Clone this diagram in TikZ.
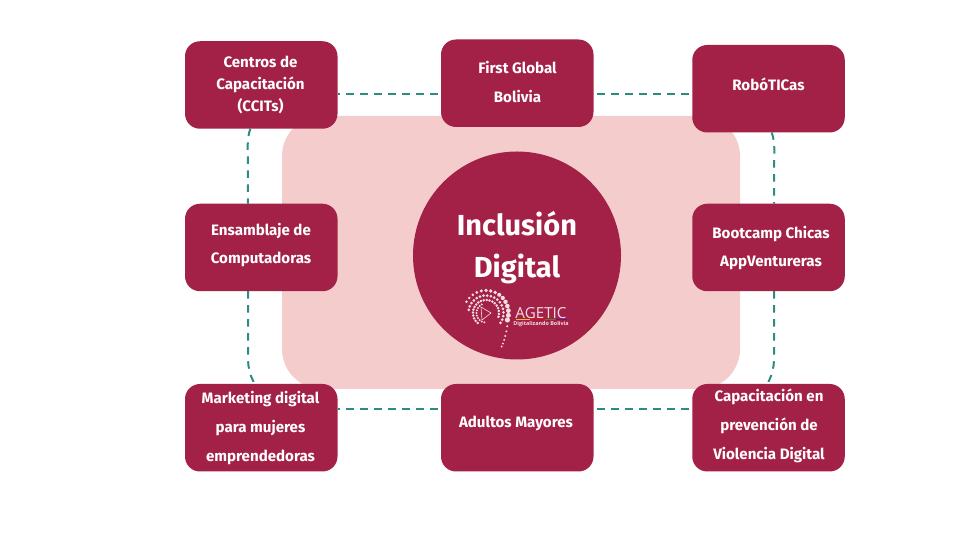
\documentclass[tikz,border=0pt]{standalone}
\usepackage{fontspec}
\setmainfont{Fira Sans}
\newfontfamily\logofont{Open Sans}
\definecolor{maroon}{HTML}{A32047}
\definecolor{blush}{HTML}{F4CCCC}
\definecolor{tealline}{HTML}{2E8B7F}
\definecolor{logodot}{HTML}{F3DDE3}
\pgfdeclarelayer{under}
\pgfsetlayers{under,main}
\tikzset{
  x=1pt,y=1pt,
  box/.style={draw=none,fill=maroon,rounded corners=15pt,minimum width=152.5pt,minimum height=87.5pt,inner sep=0pt,outer sep=0pt},
  boxtext/.style={text=white,font=\bfseries\fontsize{15.1}{28.8}\selectfont,align=center,inner sep=0pt},
  conn/.style={draw=tealline,line width=2pt,dash pattern=on 7.5pt off 6.5pt},
}
\begin{document}
\begin{tikzpicture}
\useasboundingbox (0,0) rectangle (960,540);
\node[fill=blush,rounded corners=40pt,minimum width=458pt,minimum height=273pt,inner sep=0pt,outer sep=0pt] (panel) at (511,287.5) {};
\node[circle,fill=maroon,minimum size=208pt,inner sep=0pt,outer sep=0pt] (hub) at (517,284.5) {};
\node[text=white,font=\bfseries\fontsize{29}{42}\selectfont,align=center,inner sep=0pt] (hubtext) at (517,292) {Inclusión\\Digital};

\node[box] (ccit) at (261.25,455) {};
\node[box] (first) at (517.25,456.75) {};
\node[box] (robo) at (768.5,451.25) {};
\node[box] (ens) at (261.25,292.5) {};
\node[box] (boot) at (768.5,292.5) {};
\node[box] (mkt) at (261.25,112.25) {};
\node[box] (adult) at (517.25,112.25) {};
\node[box] (cap) at (768.5,112.25) {};

\node[boxtext,font=\bfseries\fontsize{15.1}{22}\selectfont] (ccitt) at (260.5,455.5) {Centros de\\Capacitación\\(CCITs)};
\node[boxtext] (firstt) at (517.5,458) {First Global\\Bolivia};
\node[boxtext] (robot) at (768.5,456) {RobóTICas};
\node[boxtext] (enst) at (261,295) {Ensamblaje de\\Computadoras};
\node[boxtext] (boott) at (771,292) {Bootcamp Chicas\\AppVentureras};
\node[boxtext] (mktt) at (260.5,112) {Marketing digital\\para mujeres\\emprendedoras};
\node[boxtext] (adultt) at (516,117) {Adultos Mayores};
\node[boxtext] (capt) at (769,114) {Capacitación en\\prevención de\\Violencia Digital};

\begin{pgfonlayer}{under}
\draw[conn,dash phase=5.5pt] (ccit.east |- 0,445.5) -- (first.west |- 0,445.5);
\draw[conn,dash phase=10.2pt] (first.east |- 0,445.5) -- (robo.west |- 0,445.5);
\draw[conn,dash phase=5.5pt] (mkt.east |- 0,130.7) -- (adult.west |- 0,130.7);
\draw[conn,dash phase=10.2pt] (adult.east |- 0,130.7) -- (cap.west |- 0,130.7);
\draw[conn] (ccit.south -| 250.3,0) arc[start angle=161.5,end angle=180,radius=50pt] -- (ens.north -| 248,0);
\draw[conn] (ens.south -| 248,0) -- (248,181) arc[start angle=180,end angle=207,radius=50pt] -- (mkt.north -| 253.6,0);
\draw[conn] (robo.south -| 771.7,0) arc[start angle=18.5,end angle=0,radius=50pt] -- (boot.north -| 774,0);
\draw[conn] (boot.south -| 774,0) -- (774,181) arc[start angle=0,end angle=-27,radius=50pt] -- (cap.north -| 768.4,0);
\end{pgfonlayer}

% logo
\begin{scope}[shift={(486,227)},logodot]
\foreach \a in {150,138,...,-20}{\fill (\a:22.5) circle[radius={1.3+(150-\a)/130}];}
\foreach \a/\r in {-32/25,-42/27.5,-50/30,-56/32.5,-61/35,-65/37}{\fill (\a:\r) circle[radius=1.1];}
\foreach \a in {170,158,...,-40}{\fill (\a:17.5) circle[radius=1.5];}
\foreach \a in {230,217,...,-20}{\fill (\a:13) circle[radius=1.4];}
\foreach \a in {260,244,...,110}{\fill (\a:9.5) circle[radius=1.1];}
\draw[line width=0.6pt,logodot] (-5,6) -- (5,0) -- (-4,-7) -- cycle;
\end{scope}
\node[text=logodot,font=\logofont\fontsize{15.2}{15.2}\selectfont,inner sep=0pt,anchor=base] (agetic) at (541,221.5) {AGETIC};
\foreach \c/\xa/\xb in {yellow!70!maroon/516/530,red!60!maroon/530/545,green!40!maroon/545/556,blue!40!maroon/556/567}{\fill[\c] (\xa,220) rectangle (\xb,220.6);}
\node[text=logodot,font=\logofont\bfseries\fontsize{5.4}{5.6}\selectfont,inner sep=0pt,anchor=base] (agesub) at (541,214) {Digitalizando Bolivia};
\end{tikzpicture}
\end{document}
